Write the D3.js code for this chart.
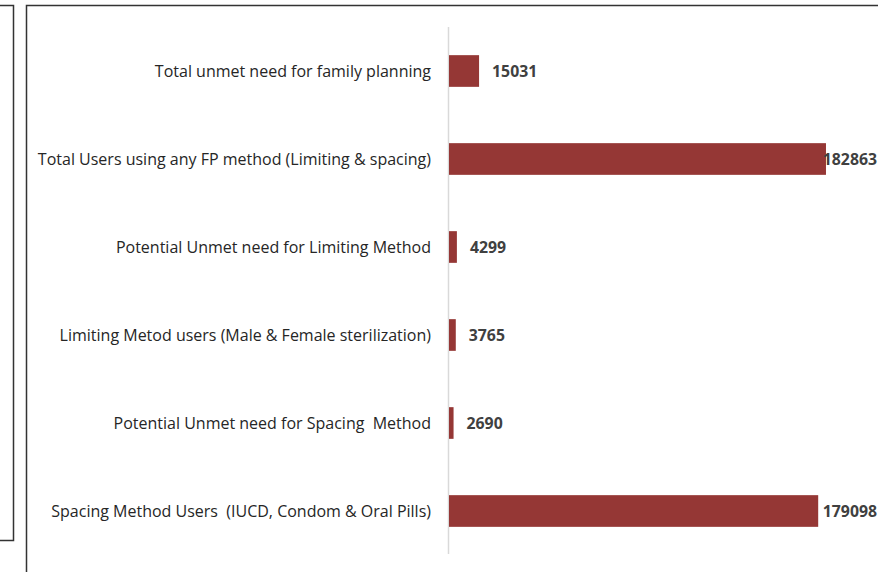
<!DOCTYPE html>
<html><head><meta charset="utf-8">
<script src="https://cdn.jsdelivr.net/npm/d3@7"></script>
<style>body{margin:0;background:#fff;} svg{display:block;} text{white-space:pre;}</style>
</head><body>
<svg id="c" width="878" height="572"></svg>
<script>
const categories = [
  "Total unmet need for family planning",
  "Total Users using any FP method (Limiting & spacing)",
  "Potential Unmet need for Limiting Method",
  "Limiting Metod users (Male & Female sterilization)",
  "Potential Unmet need for Spacing  Method",
  "Spacing Method Users  (IUCD, Condom & Oral Pills)"
];
const values = [15031, 182863, 4299, 3765, 2690, 179098];

const svg = d3.select("#c");
const font = "'Open Sans', sans-serif";

// frames
svg.append("path").attr("d","M0,5.5H13.5V540.5H0").attr("fill","none").attr("stroke","#333").attr("stroke-width",1.5);
svg.append("path").attr("d","M26.5,580V5.5H890").attr("fill","none").attr("stroke","#333").attr("stroke-width",1.5);

const x0 = 448;
const x = d3.scaleLinear().domain([0, 200000]).range([x0, x0 + 413.4]);
const y = d3.scaleBand().domain(categories).range([27, 555]).paddingInner(0.64).paddingOuter(0.32);

// axis line
svg.append("line").attr("x1", x0+0.5).attr("x2", x0+0.5).attr("y1", 27).attr("y2", 554)
  .attr("stroke", "#d9d9d9").attr("stroke-width", 1.5);

svg.selectAll("rect.bar").data(values).join("rect")
  .attr("class","bar")
  .attr("x", x0+1)
  .attr("y", (d,i)=>y(categories[i]))
  .attr("width", d=>x(d)-x0-1)
  .attr("height", y.bandwidth())
  .attr("fill", "#953735");

svg.selectAll("text.cat").data(categories).join("text")
  .attr("class","cat")
  .attr("x", 431)
  .attr("y", d=>y(d)+y.bandwidth()/2)
  .attr("dy","0.35em")
  .attr("text-anchor","end")
  .attr("font-family", font)
  .attr("font-size", 16)
  .attr("fill","#262626")
  .text(d=>d);

svg.selectAll("text.val").data(values).join("text")
  .attr("class","val")
  .attr("y", (d,i)=>y(categories[i])+y.bandwidth()/2)
  .attr("dy","0.35em")
  .attr("font-family", font)
  .attr("font-size", 15.8)
  .attr("font-weight","bold")
  .attr("fill","#404040")
  .text(d=>d)
  .each(function(d){
    const t = d3.select(this);
    const w = this.getComputedTextLength();
    let xs = x(d) + 13;
    if (xs + w > 877) xs = 877 - w;
    t.attr("x", xs);
  });
</script>
</body></html>
